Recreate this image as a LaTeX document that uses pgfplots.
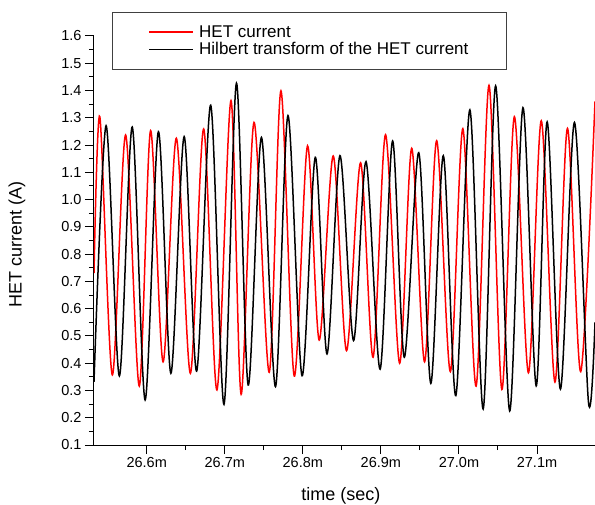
\documentclass[border=0pt]{standalone}
\usepackage{fontspec}
\setmainfont{Liberation Sans}
\usepackage{pgfplots}
\pgfplotsset{compat=1.18}

\begin{document}
\begin{tikzpicture}
\useasboundingbox (-94pt,-59pt) rectangle (501pt,445pt);
\begin{axis}[
  scale only axis,
  width=501pt, height=409pt,
  xmin=26.5325, xmax=27.1743,
  ymin=0.1, ymax=1.6,
  axis lines*=left,
  axis line style={line width=1pt},
  tick align=outside,
  major tick length=9pt, minor tick length=5pt,
  tick style={line width=1pt, black},
  xtick={26.6,26.7,26.8,26.9,27.0,27.1},
  xticklabels={26.6m,26.7m,26.8m,26.9m,27.0m,27.1m},
  minor x tick num=1,
  ytick={0.1,0.2,...,1.61},
  minor y tick num=1,
  yticklabel style={/pgf/number format/fixed, /pgf/number format/fixed zerofill, /pgf/number format/precision=1},
  /pgf/number format/assume math mode=true,
  tick label style={font=\fontsize{14.5}{16}\selectfont},
  xlabel={time (sec)},
  ylabel={HET current (A)},
  label style={font=\fontsize{18}{21}\selectfont},
  xlabel style={at={(axis description cs:0.493,-0.1232)}, anchor=center},
  ylabel style={at={(axis description cs:-0.1537,0.4914)}, anchor=center},
  legend cell align=left,
  legend style={at={(axis description cs:0.0365,1.058)}, anchor=north west,
    draw=black!75, line width=0.8pt, inner xsep=36pt, inner ysep=10.7pt,
    font=\fontsize{17}{19}\selectfont},
  legend image code/.code={\draw[#1, line width=1.5pt] (3pt,0pt) -- (47pt,0pt);
    \path (50pt,0pt);},
]

% HET current
\addplot[red, line width=1.5pt, smooth] coordinates {
  (26.5325,0.73) (26.540,1.304) (26.556,0.357) (26.573,1.237) (26.5905,0.316)
  (26.605,1.253) (26.621,0.405) (26.638,1.225) (26.656,0.363) (26.673,1.259)
  (26.690,0.302) (26.708,1.363) (26.721,0.286) (26.7375,1.283) (26.757,0.367)
  (26.772,1.399) (26.789,0.353) (26.806,1.197) (26.821,0.485) (26.839,1.160)
  (26.856,0.446) (26.874,1.135) (26.890,0.422) (26.906,1.238) (26.924,0.400)
  (26.9395,1.188) (26.956,0.405) (26.9715,1.216) (26.989,0.369) (27.005,1.260)
  (27.022,0.316) (27.0385,1.419) (27.055,0.304) (27.071,1.304) (27.089,0.365)
  (27.1055,1.289) (27.123,0.331) (27.139,1.261) (27.156,0.369) (27.1743,1.36)
};
\addlegendentry{HET current}

% Hilbert transform
\addplot[black, line width=1.5pt, smooth] coordinates {
  (26.5325,0.332) (26.548,1.271) (26.565,0.353) (26.5815,1.266) (26.598,0.265)
  (26.615,1.249) (26.631,0.363) (26.648,1.231) (26.664,0.371) (26.682,1.346)
  (26.699,0.249) (26.715,1.427) (26.730,0.320) (26.747,1.228) (26.765,0.314)
  (26.781,1.308) (26.799,0.354) (26.816,1.155) (26.831,0.434) (26.8476,1.161)
  (26.865,0.483) (26.881,1.139) (26.899,0.378) (26.915,1.215) (26.930,0.422)
  (26.9485,1.172) (26.964,0.326) (26.980,1.161) (26.996,0.281) (27.014,1.329)
  (27.031,0.232) (27.047,1.417) (27.065,0.225) (27.082,1.337) (27.099,0.317)
  (27.113,1.285) (27.130,0.305) (27.148,1.283) (27.166,0.255) (27.1743,0.55)
};
\addlegendentry{Hilbert transform of the HET current}

\end{axis}
\end{tikzpicture}
\end{document}
